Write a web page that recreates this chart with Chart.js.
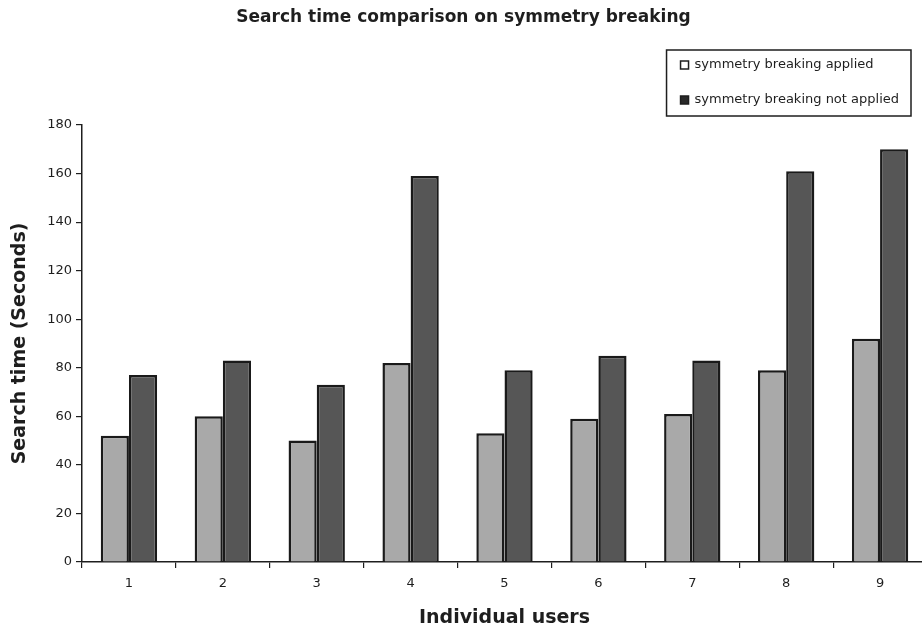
<!DOCTYPE html>
<html>
<head>
<meta charset="utf-8">
<title>Search time comparison on symmetry breaking</title>
<script src="https://cdn.jsdelivr.net/npm/chart.js@4/dist/chart.umd.min.js"></script>
<style>
  html, body { margin: 0; padding: 0; background: #fff; overflow: hidden; }
  #wrap { width: 927px; height: 631px; }
</style>
</head>
<body>
<div id="wrap"><canvas id="c" width="927" height="631"></canvas></div>
<script>
// Users on the x axis and search time (seconds) per user
const users = ['1', '2', '3', '4', '5', '6', '7', '8', '9'];
const appliedTimes = [52, 60, 50, 82, 53, 59, 61, 79, 92];
const notAppliedTimes = [77, 83, 73, 159, 79, 85, 83, 161, 170];
const seriesNames = ['symmetry breaking applied', 'symmetry breaking not applied'];
const yTicks = [0, 20, 40, 60, 80, 100, 120, 140, 160, 180];

const FONT = 'DejaVu Sans, Arial, sans-serif';
const INK = '#1e1e1e';

// Boxed legend in the upper right, above the plot area
const boxedLegend = {
  id: 'boxedLegend',
  afterDraw(chart) {
    const { ctx, chartArea } = chart;
    const ds = chart.data.datasets;
    ctx.save();
    ctx.font = '13px ' + FONT;
    let maxW = 0;
    ds.forEach(d => { maxW = Math.max(maxW, ctx.measureText(d.label).width); });
    const padL = 14, marker = 8, gap = 6, padR = 12, rowH = 35;
    const w = padL + marker + gap + maxW + padR;
    const h = rowH * ds.length - 4;
    const right = chartArea.right - 16;
    const top = chartArea.top - 75;
    const left = right - w;
    ctx.fillStyle = '#fff';
    ctx.fillRect(left, top, w, h);
    ctx.strokeStyle = INK;
    ctx.lineWidth = 1.5;
    ctx.strokeRect(left, top, w, h);
    ds.forEach((d, i) => {
      const cy = top + 15 + i * rowH;
      ctx.fillStyle = d.legendFill;
      ctx.fillRect(left + padL, cy - marker / 2, marker, marker);
      ctx.strokeStyle = INK;
      ctx.lineWidth = 1.5;
      ctx.strokeRect(left + padL, cy - marker / 2, marker, marker);
      ctx.fillStyle = INK;
      ctx.textBaseline = 'middle';
      ctx.textAlign = 'left';
      ctx.fillText(d.label, left + padL + marker + gap, cy);
    });
    ctx.restore();
  }
};

new Chart(document.getElementById('c'), {
  type: 'bar',
  data: {
    labels: users,
    datasets: [
      {
        label: seriesNames[0],
        data: appliedTimes,
        backgroundColor: '#a9a9a9',
        borderColor: '#1a1a1a',
        borderWidth: 2.5,
        legendFill: '#ffffff'
      },
      {
        label: seriesNames[1],
        data: notAppliedTimes,
        backgroundColor: '#565656',
        borderColor: '#1a1a1a',
        borderWidth: 2.5,
        legendFill: '#2a2a2a'
      }
    ]
  },
  plugins: [boxedLegend],
  options: {
    responsive: false,
    animation: false,
    layout: { padding: 0 },
    datasets: {
      bar: { categoryPercentage: 0.6, barPercentage: 1.0 }
    },
    plugins: {
      legend: { display: false },
      tooltip: { enabled: false },
      title: {
        display: true,
        text: 'Search time comparison on symmetry breaking',
        color: INK,
        font: { family: FONT, size: 17, weight: 'bold' },
        padding: { top: 7, bottom: 97.6 }
      }
    },
    scales: {
      x: {
        grid: {
          display: true,
          drawOnChartArea: false,
          drawTicks: true,
          tickLength: 6,
          color: INK,
          lineWidth: 1.2
        },
        border: { display: true, color: INK, width: 1.5 },
        ticks: {
          color: INK,
          font: { family: FONT, size: 13 },
          padding: 8
        },
        title: {
          display: true,
          text: 'Individual users',
          color: INK,
          font: { family: FONT, size: 19, weight: 'bold' },
          padding: { top: 0, bottom: 2 }
        },
        afterFit(scale) { scale.height = 69; }
      },
      y: {
        min: 0,
        max: 180,
        afterBuildTicks(scale) { scale.ticks = yTicks.map(v => ({ value: v })); },
        grid: {
          display: true,
          drawOnChartArea: false,
          drawTicks: true,
          tickLength: 6,
          color: INK,
          lineWidth: 1.2
        },
        border: { display: true, color: INK, width: 1.5 },
        ticks: {
          color: INK,
          font: { family: FONT, size: 13 },
          padding: 4
        },
        title: {
          display: true,
          text: 'Search time (Seconds)',
          color: INK,
          font: { family: FONT, size: 19, weight: 'bold' },
          padding: { top: 9, bottom: 0 }
        },
        afterFit(scale) { scale.width = 82; }
      }
    }
  }
});
</script>
</body>
</html>
